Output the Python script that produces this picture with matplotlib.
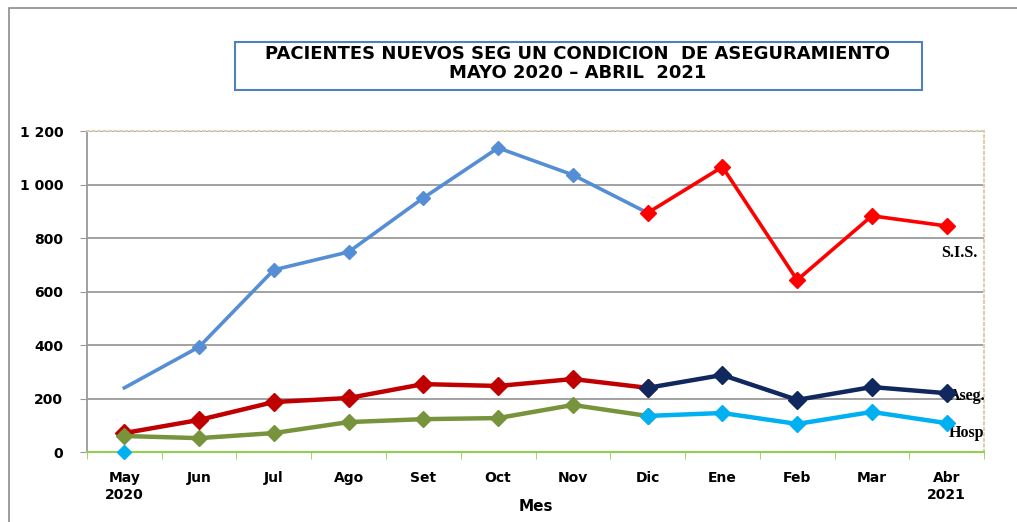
import numpy as np
import matplotlib.pyplot as plt
from matplotlib.patches import Rectangle

# === data ===
meses = ['May\n2020', 'Jun', 'Jul', 'Ago', 'Set', 'Oct', 'Nov', 'Dic',
         'Ene', 'Feb', 'Mar', 'Abr\n2021']

# 2020 part (May-Dic) and 2021 part (Dic-Abr) of each series
sis_2020 = [240, 393, 681, 748, 950, 1137, 1036, 894]
sis_2021 = [894, 1066, 643, 883, 845]
aseg_2020 = [71, 120, 187, 202, 254, 247, 273, 240]
aseg_2021 = [240, 288, 195, 243, 220]
hosp_2020 = [60, 52, 71, 112, 123, 127, 176, 135]
hosp_2021 = [135, 146, 105, 150, 108]
hosp_may = [0]

x = np.arange(len(meses))
x1 = x[:8]
x2 = x[7:]

fig = plt.figure(figsize=(10.17, 5.22), dpi=100)
ax = fig.add_axes([0.0855, 0.134, 0.8821, 0.615])

lw = 2.6
ms = 8
# S.I.S.
ax.plot(x1, sis_2020, color='#558ED5', lw=lw, zorder=3)
ax.plot(x1[1:], sis_2020[1:], ls='none', marker='D', ms=ms - 1, color='#558ED5', zorder=4)
ax.plot(x2, sis_2021, color='#FF0000', lw=lw, marker='D', ms=ms, zorder=4)
# Aseg.
ax.plot(x1, aseg_2020, color='#C00000', lw=lw + 0.6, marker='D', ms=ms + 1, zorder=4)
ax.plot(x2, aseg_2021, color='#10285E', lw=lw + 0.6, marker='D', ms=ms + 1, zorder=5)
# Hosp
ax.plot(x1, hosp_2020, color='#77933C', lw=lw + 0.6, marker='D', ms=ms, zorder=4)
ax.plot(x2, hosp_2021, color='#00B0F0', lw=lw + 0.6, marker='D', ms=ms, zorder=5)
ax.plot(x[:1], hosp_may, ls='none', marker='D', ms=7, color='#00B0F0', zorder=6,
        clip_on=False)

# series labels
lab = dict(family='Liberation Serif', weight='bold', fontsize=11.5, va='center')
ax.text(11.17, 745, 'S.I.S.', ha='center', **lab)
ax.text(11.03, 210, 'Aseg.', ha='left', clip_on=False, **lab)
ax.text(11.03, 70, 'Hosp', ha='left', clip_on=False, **lab)

# axes
ax.set_xlim(-0.5, 11.5)
ax.set_ylim(0, 1200)
ax.set_yticks(range(0, 1201, 200))
ax.set_yticklabels(['0', '200', '400', '600', '800', '1 000', '1 200'],
                   fontsize=10, weight='bold')
ax.set_xticks(x)
ax.set_xticklabels(meses, fontsize=10, weight='bold')
ax.set_xticks(np.arange(-0.5, 12, 1), minor=True)
ax.tick_params(axis='x', which='major', length=0, pad=14)
ax.tick_params(axis='x', which='minor', length=5, color='#92D050', direction='out')
ax.tick_params(axis='y', length=5, color='#999999', direction='out', pad=12)
ax.set_xlabel('Mes', fontsize=11, weight='bold', labelpad=-2)

ax.grid(axis='y', color='#9A9A9A', lw=1.3)
ax.set_axisbelow(True)
ax.spines['bottom'].set_color('#92D050')
ax.spines['bottom'].set_linewidth(1.5)
ax.spines['left'].set_color('#999999')
ax.spines['left'].set_linewidth(1.3)
for s in ['top', 'right']:
    ax.spines[s].set_color('#D8D0B0')
    ax.spines[s].set_linestyle(':')
    ax.spines[s].set_linewidth(1.5)

# title box
fig.text(0.568, 0.878, 'PACIENTES NUEVOS SEG UN CONDICION  DE ASEGURAMIENTO\nMAYO 2020 \u2013 ABRIL  2021',
         ha='center', va='center', fontsize=13, weight='bold', linespacing=1.1)
fig.patches.append(Rectangle((0.231, 0.827), 0.676, 0.092, transform=fig.transFigure,
                             fill=False, ec='#4F81BD', lw=1.5))
# outer frame
fig.patches.append(Rectangle((0.009, -0.01), 1.0, 0.995, transform=fig.transFigure,
                             fill=False, ec='#8C8C8C', lw=1.2))

fig.savefig('out.png', dpi=100)
